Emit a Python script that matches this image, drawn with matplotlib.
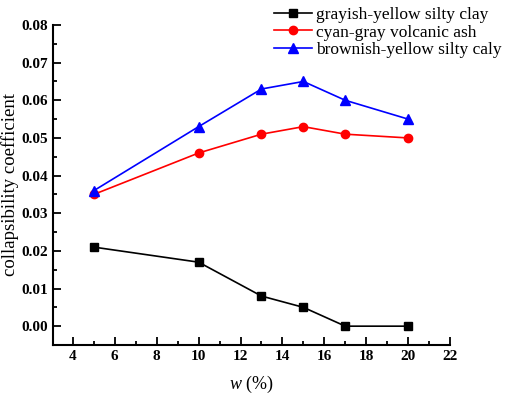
import matplotlib.pyplot as plt
from matplotlib.ticker import MultipleLocator

plt.rcParams['font.family'] = ['Liberation Serif', 'DejaVu Serif']
plt.rcParams['mathtext.fontset'] = 'custom'
plt.rcParams['mathtext.rm'] = 'Liberation Serif'
plt.rcParams['mathtext.it'] = 'Liberation Serif:italic'

w = [5, 10, 13, 15, 17, 20]
clay = [0.021, 0.017, 0.008, 0.005, 0.0, 0.0]
ash = [0.035, 0.046, 0.051, 0.053, 0.051, 0.050]
caly = [0.036, 0.053, 0.063, 0.065, 0.060, 0.055]

fig = plt.figure(figsize=(5.12, 3.95), dpi=100)
ax = fig.add_axes([0.1035, 0.1266, 0.7755, 0.8101])

ax.plot(w, clay, color='black', marker='s', markersize=6, linewidth=1.2,
        label='grayish-yellow silty clay')
ax.plot(w, ash, color='red', marker='o', markersize=6, linewidth=1.2,
        label='cyan-gray volcanic ash')
ax.plot(w, caly, color='blue', marker='^', markersize=7, linewidth=1.2,
        label='brownish-yellow silty caly')

ax.set_xlim(3.05, 22)
ax.set_ylim(-0.005, 0.08)
ax.xaxis.set_major_locator(MultipleLocator(2))
ax.xaxis.set_minor_locator(MultipleLocator(1))
ax.yaxis.set_major_locator(MultipleLocator(0.01))
ax.yaxis.set_minor_locator(MultipleLocator(0.005))
ax.yaxis.set_major_formatter(plt.FormatStrFormatter('%.2f'))

for s in ['top', 'right']:
    ax.spines[s].set_visible(False)
for s in ['left', 'bottom']:
    ax.spines[s].set_linewidth(1.5)

ax.tick_params(which='both', direction='in', width=1.3, labelsize=11)
ax.tick_params(which='major', length=6)
ax.tick_params(which='minor', length=3)
for t in ax.get_xticklabels() + ax.get_yticklabels():
    t.set_fontweight('bold')

ax.set_xlabel(r'$\mathit{w}$ (%)', fontsize=13, labelpad=8)
ax.set_ylabel('collapsibility coefficient', fontsize=13.5, labelpad=2)

fig.legend(loc='upper right', bbox_to_anchor=(1.0, 1.01), frameon=False,
           fontsize=12.5, handlelength=2.2, labelspacing=0.1, handletextpad=0.2,
           borderaxespad=0.2)

fig.savefig('out.png', dpi=100)
